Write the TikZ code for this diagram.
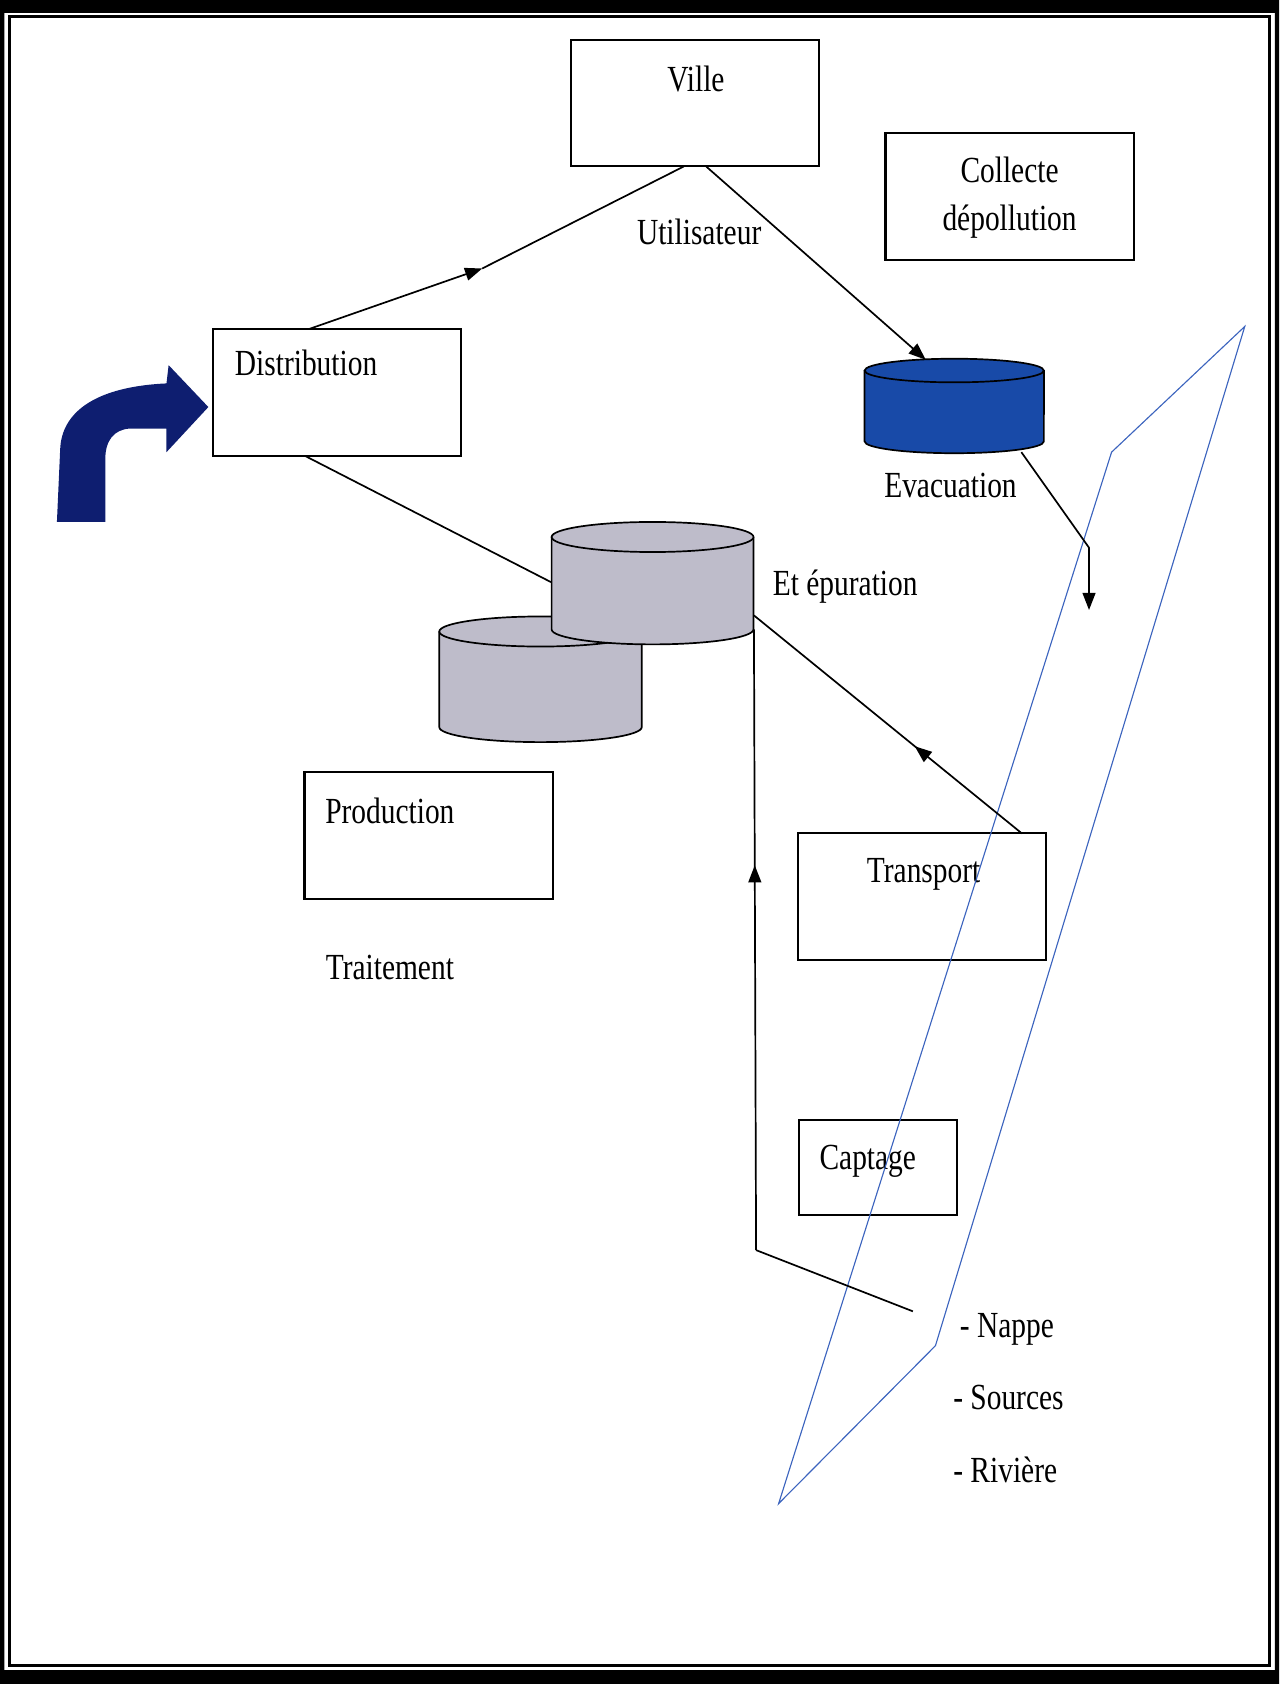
\documentclass[tikz,border=0pt]{standalone}
\usepackage{fontspec}
\setmainfont{Liberation Serif}[FakeStretch=0.8]
\usetikzlibrary{arrows.meta,decorations.markings}

\definecolor{arrowNavy}{RGB}{14,30,112}
\definecolor{evacBlue}{RGB}{24,74,168}
\definecolor{cuveGray}{RGB}{190,188,202}
\definecolor{zoneBlue}{RGB}{60,100,190}

\begin{document}
\begin{tikzpicture}[
    x=0.02cm, y=-0.02cm,
    % Node styles
    box/.style={draw, rectangle, line width=1.1pt, minimum width=4.62cm, minimum height=2.36cm, inner sep=0pt, outer sep=0pt},
    txt/.style={font=\fontsize{19.5}{25.6}\selectfont, inner sep=0pt, anchor=mid},
    conn/.style={line width=0.9pt},
    endtip/.style={-{Triangle[length=0.32cm, width=0.24cm]}},
    midtip/.style={postaction={decorate}, decoration={markings, mark=at position #1 with {\arrow{Triangle[length=0.32cm, width=0.24cm]}}}},
    cuve/.style={draw, line width=0.9pt, fill=cuveGray},
    zone/.style={draw=zoneBlue, line width=0.6pt},
]
\useasboundingbox (0,0) rectangle (1191,1568);

% ============================================================
% Frame
% ============================================================
\fill[even odd rule] (0,0) rectangle (1191,1568) (4,12) rectangle (1187,1555);
\draw[line width=0.05cm] (9,15.5) rectangle (1182,1551);

% ============================================================
% Boxes
% ============================================================
\node[box] (ville) at (647.5,96) {};
\node[box] (collecte) at (940,183) {};
\node[box] (distribution) at (314,365.5) {};
\node[box] (production) at (399,778) {};
\node[box] (transport) at (858.5,835) {};
\node[box, minimum width=2.94cm, minimum height=1.77cm] (captage) at (817.5,1087) {};

% ============================================================
% Labels
% ============================================================
\node[txt] (villeTxt) at (648,81) {Ville};
\node[txt, align=center, anchor=center] (collecteTxt) at (940,184) {Collecte\\dépollution};
\node[txt] (utilTxt) at (651,224) {Utilisateur};
\node[txt] (distTxt) at (285,346) {Distribution};
\node[txt] (evacTxt) at (885,459) {Evacuation};
\node[txt] (epurTxt) at (787,550) {Et épuration};
\node[txt] (prodTxt) at (363,763) {Production};
\node[txt] (traitTxt) at (363,908) {Traitement};
\node[txt] (transTxt) at (860,818) {Transport};
\node[txt] (captTxt) at (808,1085) {Captage};
\node[txt] (nappeTxt) at (937.5,1241) {- Nappe};
\node[txt] (sourcesTxt) at (939,1308) {- Sources};
\node[txt] (riviereTxt) at (936,1376) {- Rivière};

% ============================================================
% Input arrow
% ============================================================
\fill[arrowNavy] (53,486) -- (56,419) .. controls (57,383) and (90,360) .. (155,357)
    -- (157,340) -- (194,379) -- (155,421) -- (155,399) -- (121,399)
    .. controls (106,400) and (98,410) .. (98,428) -- (98,486) -- cycle;

% ============================================================
% Tanks
% ============================================================
% Evacuation
\draw[cuve, fill=evacBlue] (805,345) -- (805,411) arc[start angle=180, end angle=360, x radius=1.67cm, y radius=0.22cm] -- (972,345);
\draw[cuve, fill=evacBlue] (888.5,345) ellipse[x radius=1.67cm, y radius=0.22cm];
\coordinate (evacTop) at (862,335);
\coordinate (evacOut) at (951,421);

% Treatment tanks
\draw[cuve] (409,588) -- (409,677) arc[start angle=180, end angle=360, x radius=1.886cm, y radius=0.28cm] -- (597.6,588);
\draw[cuve] (503.3,588) ellipse[x radius=1.886cm, y radius=0.28cm];
\draw[cuve] (513.6,500) -- (513.6,586) arc[start angle=180, end angle=360, x radius=1.88cm, y radius=0.28cm] -- (701.6,500);
\draw[cuve] (607.6,500) ellipse[x radius=1.88cm, y radius=0.28cm];
\coordinate (cuveIn) at (513,542);
\coordinate (cuveOut) at (702,573);
\coordinate (cuveBas) at (702,586);

% ============================================================
% Resource zone
% ============================================================
\draw[zone] (1159,304) -- (1035,421) -- (725,1400) -- (871,1253) -- cycle;

% ============================================================
% Connectors
% ============================================================
\coordinate (distKink) at (449,250);
\draw[conn, endtip] ([xshift=-0.534cm]distribution.north) -- (distKink);
\draw[conn] (distKink) -- ([xshift=-0.216cm]ville.south);
\draw[conn, endtip] ([xshift=0.2cm]ville.south) -- (evacTop);
\coordinate (evacCoude) at (1014,510);
\coordinate (evacFin) at (1014,568);
\draw[conn, endtip] (evacOut) -- (evacCoude) -- (evacFin);
\draw[conn] ([xshift=-0.6cm]distribution.south) -- (cuveIn);
\draw[conn, midtip=0.4] ([xshift=1.86cm]transport.north) -- (cuveOut);

\coordinate (nappeFin) at (850,1221);
\coordinate (coin) at (704,1164);
\draw[conn] (nappeFin) -- (coin);
\draw[conn, midtip=0.62] (coin) -- (cuveBas);

\end{tikzpicture}
\end{document}
